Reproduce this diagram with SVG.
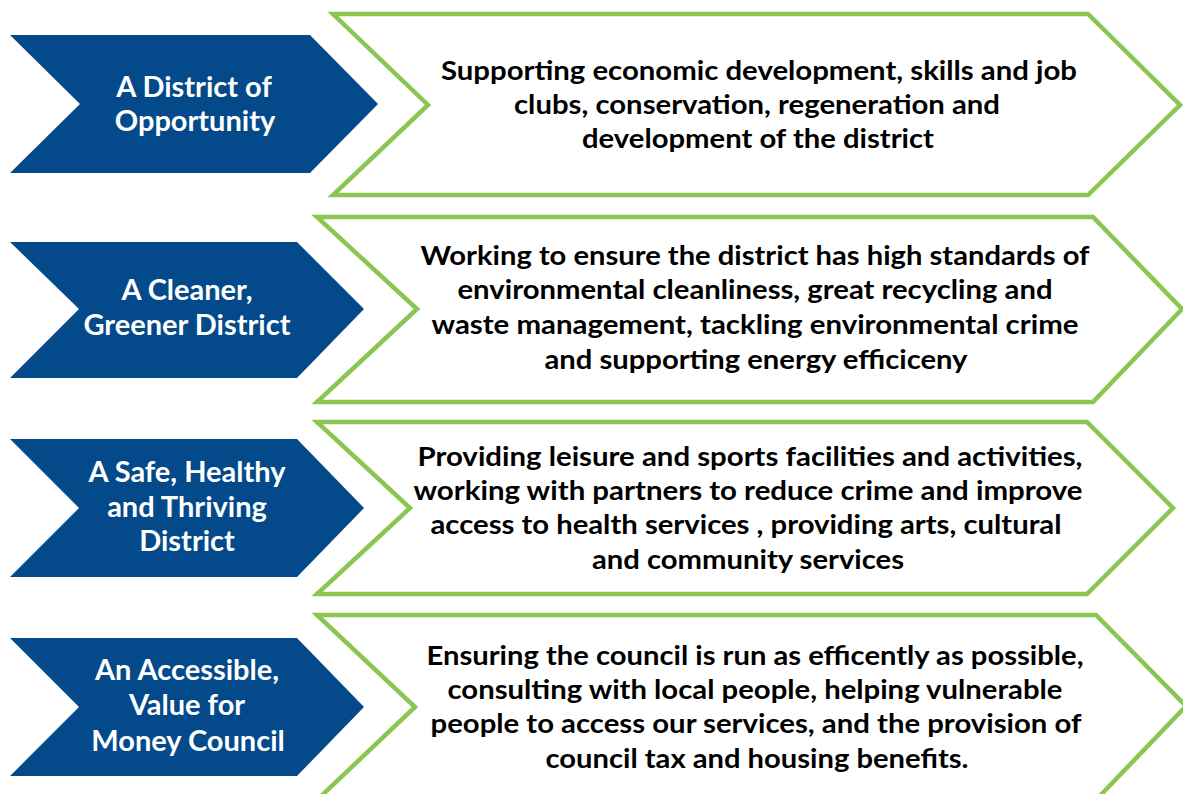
<svg xmlns="http://www.w3.org/2000/svg" width="1183" height="794" viewBox="0 0 1183 794">
<style>
.blue{fill:#044a8b;stroke:none}
.green{fill:#ffffff;stroke:#8bc653;stroke-width:4.5;stroke-linejoin:miter}
.lbl{font-family:Lato,"Open Sans","Liberation Sans",sans-serif;font-weight:bold;font-size:29px;fill:#ffffff;text-anchor:middle}
.txt{font-family:Lato,"Open Sans","Liberation Sans",sans-serif;font-weight:bold;font-size:26px;fill:#000000;text-anchor:middle}
</style>
<rect width="1183" height="794" fill="#ffffff"/>
<g id="row1">
<polygon class="green" points="333,14 1088,14 1180,105 1088,195 333,195 428,105"/>
<polygon class="blue" points="10,35 310,35 378,104 310,173 10,173 80,104"/>
<text class="lbl" x="194" y="97">A District of</text>
<text class="lbl" x="195" y="131">Opportunity</text>
<text class="txt" x="759" y="80" textLength="636" lengthAdjust="spacingAndGlyphs">Supporting economic development, skills and job</text>
<text class="txt" x="757" y="114" textLength="486" lengthAdjust="spacingAndGlyphs">clubs, conservation, regeneration and</text>
<text class="txt" x="758" y="148" textLength="352" lengthAdjust="spacingAndGlyphs">development of the district</text>
</g>
<g id="row2">
<polygon class="green" points="317,217 1093,217 1182,309 1093,402 317,402 417,309"/>
<polygon class="blue" points="10,242 297,242 364,309 297,378 10,378 79,309"/>
<text class="lbl" x="187" y="300">A Cleaner,</text>
<text class="lbl" x="187" y="335">Greener District</text>
<text class="txt" x="755" y="265" textLength="669" lengthAdjust="spacingAndGlyphs">Working to ensure the district has high standards of</text>
<text class="txt" x="755" y="299" textLength="595" lengthAdjust="spacingAndGlyphs">environmental cleanliness, great recycling and</text>
<text class="txt" x="755" y="334" textLength="647" lengthAdjust="spacingAndGlyphs">waste management, tackling environmental crime</text>
<text class="txt" x="756" y="369" textLength="423" lengthAdjust="spacingAndGlyphs">and supporting energy efficiceny</text>
</g>
<g id="row3">
<polygon class="green" points="317,422 1087,422 1173,508 1087,594 317,594 410,508"/>
<polygon class="blue" points="10,439 297,439 364,508 297,577 10,577 79,508"/>
<text class="lbl" x="187" y="482">A Safe, Healthy</text>
<text class="lbl" x="187" y="517">and Thriving</text>
<text class="lbl" x="187" y="551">District</text>
<text class="txt" x="750" y="466" textLength="665" lengthAdjust="spacingAndGlyphs">Providing leisure and sports facilities and activities,</text>
<text class="txt" x="748" y="500" textLength="669" lengthAdjust="spacingAndGlyphs">working with partners to reduce crime and improve</text>
<text class="txt" x="746" y="534" textLength="631" lengthAdjust="spacingAndGlyphs">access to health services , providing arts, cultural</text>
<text class="txt" x="748" y="569" textLength="312" lengthAdjust="spacingAndGlyphs">and community services</text>
</g>
<g id="row4">
<polygon class="green" points="317,615 1096,615 1186,706 1096,800 317,800 415,707"/>
<polygon class="blue" points="10,638 297,638 364,707 297,776 10,776 79,707"/>
<text class="lbl" x="187" y="680">An Accessible,</text>
<text class="lbl" x="187" y="715">Value for</text>
<text class="lbl" x="188" y="751">Money Council</text>
<text class="txt" x="755" y="665" textLength="657" lengthAdjust="spacingAndGlyphs">Ensuring the council is run as efficently as possible,</text>
<text class="txt" x="755" y="699" textLength="615" lengthAdjust="spacingAndGlyphs">consulting with local people, helping vulnerable</text>
<text class="txt" x="756" y="733" textLength="651" lengthAdjust="spacingAndGlyphs">people to access our services, and the provision of</text>
<text class="txt" x="757" y="768" textLength="423" lengthAdjust="spacingAndGlyphs">council tax and housing benefits.</text>
</g>
<g id="connectors"></g>
</svg>
